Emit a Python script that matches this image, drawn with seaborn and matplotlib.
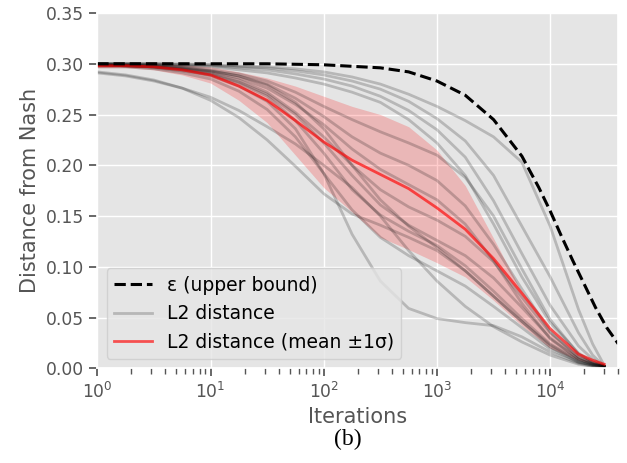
import numpy as np
import pandas as pd
import matplotlib
matplotlib.use("Agg")
import matplotlib.pyplot as plt
import seaborn as sns

# iterations (shared grid for the runs, the mean and the band)
iters = [1, 1.78, 3.16, 5.62, 10, 17.8, 31.6, 56.2, 100, 178, 316, 562,
         1000, 1778, 3162, 5623, 10000, 17783, 23714, 30000]

# epsilon upper bound
eps_iters = [1, 10, 31.6, 100, 316, 562, 1000, 1778, 3162, 5623, 7943, 10000,
             12589, 15849, 19953, 25119, 31623, 40000]
eps_vals = [0.300, 0.300, 0.300, 0.299, 0.296, 0.292, 0.283, 0.269, 0.245, 0.209, 0.178, 0.155,
            0.130, 0.106, 0.083, 0.060, 0.040, 0.024]

# individual runs (L2 distance)
run_t1 = [0.300, 0.300, 0.300, 0.300, 0.299, 0.298, 0.297, 0.295, 0.292, 0.287, 0.280, 0.270, 0.258, 0.244, 0.228, 0.203, 0.140, 0.058, 0.024, 0.003]
run_t2 = [0.300, 0.300, 0.300, 0.299, 0.299, 0.297, 0.296, 0.293, 0.289, 0.283, 0.275, 0.263, 0.246, 0.224, 0.190, 0.140, 0.090, 0.035, 0.013, 0.002]
run_t3 = [0.300, 0.300, 0.300, 0.299, 0.298, 0.296, 0.294, 0.290, 0.285, 0.278, 0.268, 0.254, 0.235, 0.208, 0.165, 0.113, 0.062, 0.022, 0.009, 0.002]
run_t4 = [0.300, 0.300, 0.299, 0.298, 0.297, 0.294, 0.291, 0.286, 0.280, 0.272, 0.262, 0.245, 0.222, 0.190, 0.142, 0.090, 0.045, 0.015, 0.006, 0.002]
run_m1 = [0.300, 0.299, 0.299, 0.297, 0.294, 0.290, 0.283, 0.272, 0.258, 0.245, 0.233, 0.222, 0.210, 0.188, 0.150, 0.098, 0.048, 0.014, 0.006, 0.002]
run_m2 = [0.299, 0.299, 0.298, 0.296, 0.293, 0.288, 0.280, 0.266, 0.248, 0.228, 0.212, 0.200, 0.185, 0.160, 0.122, 0.078, 0.036, 0.011, 0.005, 0.002]
run_m3 = [0.299, 0.298, 0.297, 0.295, 0.292, 0.286, 0.276, 0.260, 0.240, 0.216, 0.196, 0.181, 0.166, 0.142, 0.106, 0.064, 0.029, 0.009, 0.004, 0.002]
run_m4 = [0.299, 0.298, 0.297, 0.295, 0.291, 0.284, 0.272, 0.252, 0.228, 0.200, 0.176, 0.159, 0.146, 0.130, 0.105, 0.070, 0.035, 0.011, 0.005, 0.002]
run_m5 = [0.299, 0.298, 0.297, 0.294, 0.290, 0.282, 0.270, 0.250, 0.222, 0.190, 0.161, 0.141, 0.126, 0.111, 0.089, 0.060, 0.030, 0.009, 0.004, 0.002]
run_m6 = [0.299, 0.298, 0.296, 0.293, 0.289, 0.281, 0.268, 0.244, 0.212, 0.176, 0.151, 0.135, 0.121, 0.101, 0.076, 0.049, 0.024, 0.008, 0.004, 0.002]
run_m7 = [0.299, 0.299, 0.298, 0.296, 0.293, 0.288, 0.279, 0.262, 0.236, 0.200, 0.166, 0.140, 0.119, 0.096, 0.071, 0.046, 0.021, 0.006, 0.003, 0.002]
run_l1 = [0.298, 0.298, 0.297, 0.294, 0.288, 0.278, 0.263, 0.236, 0.192, 0.132, 0.086, 0.059, 0.049, 0.045, 0.042, 0.031, 0.016, 0.005, 0.002, 0.001]
run_l2 = [0.292, 0.289, 0.284, 0.276, 0.264, 0.247, 0.225, 0.199, 0.172, 0.152, 0.141, 0.129, 0.116, 0.096, 0.071, 0.046, 0.023, 0.007, 0.003, 0.002]
run_l3 = [0.291, 0.288, 0.283, 0.276, 0.267, 0.254, 0.238, 0.221, 0.200, 0.178, 0.150, 0.116, 0.086, 0.061, 0.041, 0.026, 0.013, 0.004, 0.002, 0.001]
run_l4 = [0.297, 0.297, 0.295, 0.291, 0.285, 0.273, 0.255, 0.228, 0.192, 0.156, 0.129, 0.111, 0.096, 0.081, 0.061, 0.040, 0.019, 0.006, 0.003, 0.001]
runs = [run_t1, run_t2, run_t3, run_t4, run_m1, run_m2, run_m3, run_m4,
        run_m5, run_m6, run_m7, run_l1, run_l2, run_l3, run_l4]

# mean and +-1 sigma band
mean_vals = [0.298, 0.298, 0.297, 0.294, 0.289, 0.278, 0.264, 0.244, 0.223, 0.205, 0.191, 0.177, 0.158, 0.137, 0.108, 0.074, 0.039, 0.014, 0.008, 0.004]
band_hi = [0.300, 0.300, 0.300, 0.299, 0.297, 0.292, 0.286, 0.278, 0.268, 0.258, 0.250, 0.238, 0.215, 0.180, 0.128, 0.075, 0.035, 0.013, 0.008, 0.005]
band_lo = [0.296, 0.296, 0.294, 0.289, 0.281, 0.264, 0.242, 0.210, 0.178, 0.154, 0.129, 0.117, 0.104, 0.090, 0.067, 0.042, 0.020, 0.008, 0.005, 0.003]

plt.style.use("ggplot")
sns.set_context("notebook")

fig = plt.figure(figsize=(6.27, 4.63), dpi=100)
ax = fig.add_axes([0.1552, 0.2045, 0.831, 0.7674])

ax.fill_between(iters, band_lo, band_hi, color="red", alpha=0.2, linewidth=0)

for i, r in enumerate(runs):
    sns.lineplot(x=iters, y=r, ax=ax, color="black", alpha=0.2, linewidth=2,
                 label="L2 distance" if i == 0 else None, legend=False)

sns.lineplot(x=iters, y=mean_vals, ax=ax, color="red", alpha=0.65, linewidth=2,
             label="L2 distance (mean \u00b11\u03c3)", legend=False)
sns.lineplot(x=eps_iters, y=eps_vals, ax=ax, color="black", linewidth=2.2,
             linestyle="--", label="\u03b5 (upper bound)", legend=False)

ax.set_xscale("log")
ax.set_xlim(1, 40000)
ax.set_ylim(0, 0.35)
ax.set_yticks(np.arange(0, 0.351, 0.05))
ax.set_yticklabels([f"{v:.2f}" for v in np.arange(0, 0.351, 0.05)])
ax.tick_params(axis="both", which="major", labelsize=12.3, colors="#555555")
ax.tick_params(axis="x", which="minor", colors="#555555")
ax.set_xlabel("Iterations", fontsize=15, color="#555555")
ax.set_ylabel("Distance from Nash", fontsize=15, color="#555555")
ax.grid(True, which="major", color="white", linewidth=1)
ax.grid(False, which="minor")

handles, labels = ax.get_legend_handles_labels()
order = [labels.index("\u03b5 (upper bound)"), labels.index("L2 distance"),
         labels.index("L2 distance (mean \u00b11\u03c3)")]
ax.legend([handles[k] for k in order], [labels[k] for k in order],
          loc="lower left", fontsize=13.5, handlelength=2.0)

fig.text(0.555, 0.05, "(b)", ha="center", va="center", fontsize=17,
         family="Liberation Serif", color="black")

fig.savefig("out.png", dpi=100)
